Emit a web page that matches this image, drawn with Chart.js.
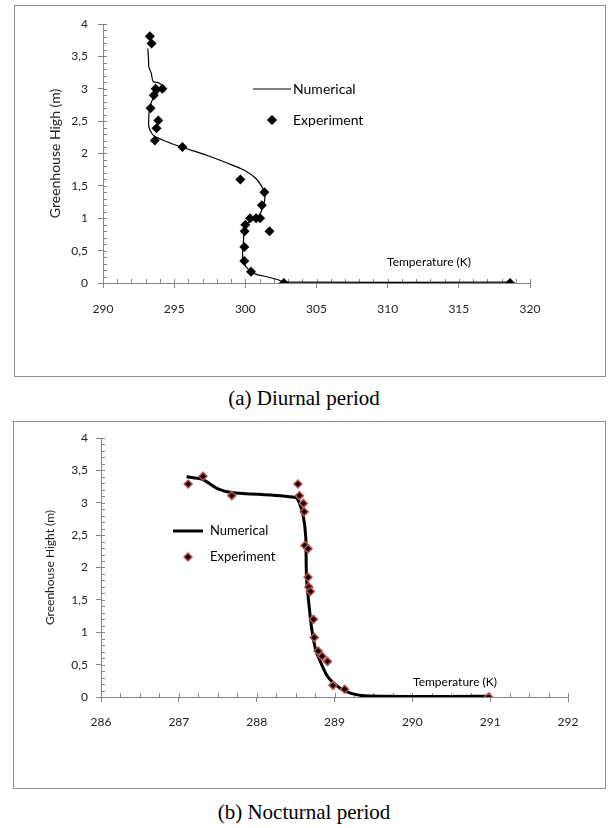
<!DOCTYPE html>
<html>
<head>
<meta charset="utf-8">
<script src="https://cdn.jsdelivr.net/npm/chart.js@4.4.1/dist/chart.umd.min.js"></script>
<style>
  body { margin: 0; background: #fff; }
  .frame { position: absolute; border: 1px solid #8e8e8e; box-sizing: border-box; }
  .caption { position: absolute; left: 0; width: 608px; text-align: center;
             font-family: "Liberation Serif", "Times New Roman", serif; font-size: 21px; color: #000; }
</style>
</head>
<body>
<div class="frame" style="left:14px;top:5px;width:592px;height:372px;">
  <canvas id="diurnal" width="590" height="370"></canvas>
</div>
<div class="caption" style="top:386px;">(a) Diurnal period</div>

<div class="frame" style="left:13px;top:421px;width:593px;height:368px;">
  <canvas id="nocturnal" width="591" height="366"></canvas>
</div>
<div class="caption" style="top:800px;">(b) Nocturnal period</div>

<script>
// (a) diurnal period - experiment
const diurnalExpT = [293.29, 293.41, 293.7, 294.17, 293.57, 293.34, 293.88, 293.76, 293.64, 295.58,
  299.65, 301.34, 301.16, 300.33, 300.76, 301.04, 300.0, 299.95, 301.7, 299.93, 299.93, 300.4, 302.71, 318.6];
const diurnalExpH = [3.81, 3.70, 3.0, 3.0, 2.90, 2.70, 2.51, 2.39, 2.20, 2.10,
  1.60, 1.40, 1.20, 1.0, 1.0, 1.0, 0.90, 0.80, 0.80, 0.556, 0.34, 0.175, 0.0, 0.0];
// (a) diurnal period - numerical
const diurnalNumT = [293.15, 293.2, 293.22, 293.39, 293.53, 293.93, 294.17, 293.57, 293.29, 293.22, 293.22,
  293.4, 293.6, 294.4, 295.5, 297.34, 298.76, 299.93, 300.76, 301.23, 301.39, 301.23, 300.88, 300.17,
  299.93, 299.86, 299.81, 300.05, 300.64, 301.58, 302.29, 302.71, 318.6];
const diurnalNumH = [3.62, 3.45, 3.34, 3.24, 3.11, 3.09, 3.03, 2.87, 2.72, 2.57, 2.41,
  2.32, 2.27, 2.19, 2.10, 1.97, 1.85, 1.74, 1.61, 1.46, 1.36, 1.17, 1.02, 0.92,
  0.81, 0.61, 0.40, 0.25, 0.145, 0.093, 0.05, 0.015, 0.012];

// (b) nocturnal period - experiment
const nocturnalExpT = [287.12, 287.31, 287.68, 288.53, 288.55, 288.60, 288.61, 288.62, 288.66, 288.66,
  288.67, 288.69, 288.73, 288.74, 288.79, 288.84, 288.91, 288.98, 289.13, 290.98];
const nocturnalExpH = [3.29, 3.41, 3.11, 3.29, 3.11, 2.99, 2.86, 2.34, 2.29, 1.85,
  1.70, 1.63, 1.20, 0.92, 0.71, 0.63, 0.55, 0.18, 0.12, 0.0];
// (b) nocturnal period - numerical
const nocturnalNumT = [287.10, 287.30, 287.51, 287.68, 288.50, 288.55, 288.60, 288.63, 288.64, 288.67,
  288.71, 288.76, 288.81, 288.89, 288.95, 289.12, 289.38, 290.98];
const nocturnalNumH = [3.40, 3.36, 3.21, 3.16, 3.08, 2.99, 2.79, 2.48, 1.86, 1.45,
  1.03, 0.72, 0.57, 0.36, 0.26, 0.10, 0.02, 0.01];

const seriesNames = ["Numerical", "Experiment"];
const xTitle = "Temperature (K)";

const axisGray = "#868686";
const font = "Lato, 'Noto Sans', sans-serif";

function pts(xs, ys) {
  return xs.map((x, i) => ({ x: x, y: ys[i] }));
}

// minor ticks, legend and the in-plot "Temperature (K)" label
const extras = {
  id: "extras",
  beforeDatasetsDraw(chart, args, o) {
    const { ctx, chartArea: a, scales: { x, y } } = chart;
    ctx.save();
    ctx.strokeStyle = axisGray;
    ctx.lineWidth = 1;
    ctx.beginPath();
    for (let v = x.min; v <= x.max + 1e-9; v += o.minorX) {
      const px = Math.round(x.getPixelForValue(v)) + 0.5;
      ctx.moveTo(px, a.bottom);
      ctx.lineTo(px, a.bottom - 4);
    }
    for (let v = y.min; v <= y.max + 1e-9; v += o.minorY) {
      const py = Math.round(y.getPixelForValue(v)) + 0.5;
      ctx.moveTo(a.left, py);
      ctx.lineTo(a.left + 4, py);
    }
    ctx.stroke();
    ctx.restore();
  },
  afterDraw(chart, args, o) {
    const ctx = chart.ctx;
    const lg = o.legend;
    ctx.save();
    ctx.fillStyle = "#000";
    ctx.textBaseline = "middle";
    ctx.font = lg.fontSize + "px " + font;
    // line sample
    ctx.strokeStyle = "#000";
    ctx.lineWidth = o.lineWidth;
    ctx.beginPath();
    ctx.moveTo(lg.x, lg.y);
    ctx.lineTo(lg.x + lg.len, lg.y);
    ctx.stroke();
    ctx.fillText(seriesNames[0], lg.textX, lg.y);
    // marker sample
    const mx = lg.x + lg.len / 2, my = lg.y + lg.gap, r = o.markerRadius;
    ctx.beginPath();
    ctx.moveTo(mx, my - r);
    ctx.lineTo(mx + r, my);
    ctx.lineTo(mx, my + r);
    ctx.lineTo(mx - r, my);
    ctx.closePath();
    ctx.fill();
    if (o.markerBorder) {
      ctx.strokeStyle = o.markerBorder;
      ctx.lineWidth = 1.5;
      ctx.stroke();
    }
    ctx.fillText(seriesNames[1], lg.textX, my);
    // axis caption inside the plot
    ctx.font = "12px " + font;
    ctx.textAlign = "center";
    ctx.fillText(xTitle, o.tempLabel.x, o.tempLabel.y);
    ctx.restore();
  }
};

function makeChart(id, s) {
  const ctx = document.getElementById(id).getContext("2d");
  new Chart(ctx, {
    type: "scatter",
    data: {
      datasets: [
        {
          label: seriesNames[1],
          data: pts(s.expT, s.expH),
          pointStyle: "rectRot",
          pointRadius: s.markerRadius,
          pointBackgroundColor: "#000",
          pointBorderColor: s.markerBorder || "#000",
          pointBorderWidth: s.markerBorder ? 1.5 : 0,
          showLine: false,
          order: 0,
        },
        {
          label: seriesNames[0],
          data: pts(s.numT, s.numH),
          showLine: true,
          borderColor: "#000",
          borderWidth: s.lineWidth,
          tension: 0.3,
          pointRadius: 0,
          order: 1,
        },
      ],
    },
    options: {
      responsive: false,
      animation: false,
      devicePixelRatio: 1,
      layout: { padding: s.padding },
      plugins: {
        legend: { display: false },
        tooltip: { enabled: false },
        extras: {
          minorX: s.minorX, minorY: 0.1,
          legend: s.legend, tempLabel: s.tempLabel,
          lineWidth: s.lineWidth, markerRadius: s.markerRadius, markerBorder: s.markerBorder,
        },
      },
      scales: {
        x: {
          type: "linear",
          min: s.xMin, max: s.xMax,
          afterFit: (scale) => { scale.height = 40; },
          border: { color: axisGray },
          grid: { drawOnChartArea: false, color: axisGray, tickLength: 5 },
          ticks: { stepSize: s.xStep, padding: s.xPad, color: "#222", font: { family: font, size: 12 } },
        },
        y: {
          min: 0, max: 4,
          afterFit: (scale) => { scale.width = s.yWidth; },
          border: { color: axisGray },
          grid: { drawOnChartArea: false, color: axisGray, tickLength: 5 },
          ticks: {
            stepSize: 0.5, padding: s.yPad, color: "#222", font: { family: font, size: 12 },
            callback: (v) => String(v).replace(".", ","),
          },
          title: {
            display: true, text: s.yTitle, color: "#222",
            font: { family: font, size: s.yTitleSize },
            padding: { top: s.yTitlePad, bottom: 0 },
          },
        },
      },
    },
    plugins: [extras],
  });
}

makeChart("diurnal", {
  expT: diurnalExpT, expH: diurnalExpH, numT: diurnalNumT, numH: diurnalNumH,
  xMin: 290, xMax: 320, xStep: 5, minorX: 1,
  padding: { left: 22, top: 18, right: 75, bottom: 53 },
  yWidth: 66, xPad: 14, yPad: 10,
  yTitle: "Greenhouse High (m)", yTitleSize: 14, yTitlePad: 10,
  lineWidth: 1.2, markerRadius: 5, markerBorder: null,
  legend: { x: 238, y: 83, len: 38, gap: 31, textX: 278, fontSize: 14 },
  tempLabel: { x: 414, y: 256 },
});

makeChart("nocturnal", {
  expT: nocturnalExpT, expH: nocturnalExpH, numT: nocturnalNumT, numH: nocturnalNumH,
  xMin: 286, xMax: 292, xStep: 1, minorX: 0.25,
  padding: { left: 22, top: 16, right: 37, bottom: 51 },
  yWidth: 65, xPad: 13, yPad: 8,
  yTitle: "Greenhouse Hight (m)", yTitleSize: 12, yTitlePad: 7,
  lineWidth: 3, markerRadius: 4, markerBorder: "#c0504d",
  legend: { x: 159, y: 109, len: 30, gap: 26, textX: 196, fontSize: 13 },
  tempLabel: { x: 441, y: 260 },
});
</script>
</body>
</html>
